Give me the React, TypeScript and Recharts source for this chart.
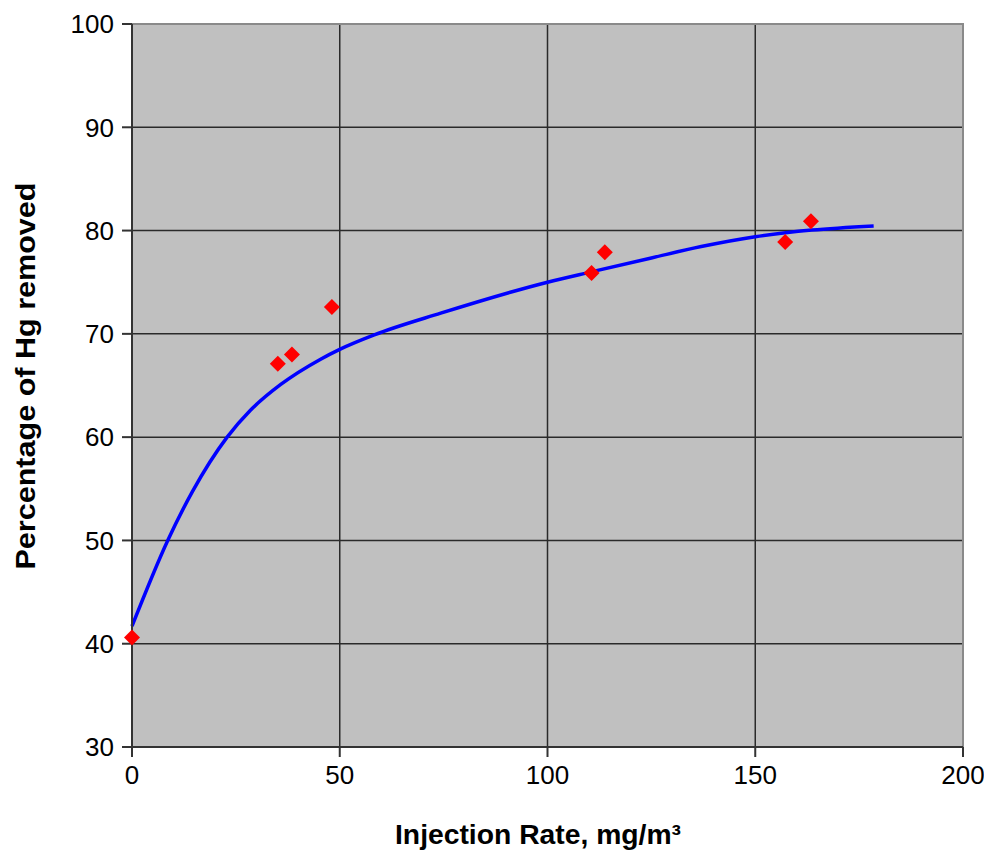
import { ComposedChart, Line, Scatter, XAxis, YAxis, CartesianGrid, ReferenceArea } from 'recharts'

const measuredRate = [0, 35.1, 38.5, 48.1, 110.6, 113.8, 157.2, 163.4]
const measuredRemoval = [40.6, 67.1, 68.0, 72.6, 75.9, 77.9, 78.9, 80.9]

const fitRate = [0, 8.6, 14.5, 22.9, 28.5, 35.8, 45.4, 50, 58.3, 74.3, 100, 110.5, 125, 137, 150, 163.6, 178.5]
const fitRemoval = [41.7, 50.0, 54.7, 60.0, 62.6, 65.1, 67.55, 68.5, 69.9, 72.0, 75.0, 76.0, 77.35, 78.45, 79.4, 80.05, 80.45]

const xTicks = [0, 50, 100, 150, 200]
const yTicks = [30, 40, 50, 60, 70, 80, 90, 100]

const points = measuredRate.map((x, i) => ({ x, y: measuredRemoval[i] }))
const curve = fitRate.map((x, i) => ({ x, y: fitRemoval[i] }))

const font = '"Liberation Sans", Arial, sans-serif'

const Diamond = (props: any) => {
  const { cx, cy } = props
  const r = 8
  return (
    <polygon
      points={`${cx},${cy - r} ${cx + r},${cy} ${cx},${cy + r} ${cx - r},${cy}`}
      fill="#FF0000"
    />
  )
}

export default function App() {
  return (
    <div style={{ width: 984, height: 846 }}>
      <ComposedChart width={984} height={846} margin={{ top: 16, right: 29, left: 0, bottom: 0 }}>
        <CartesianGrid
          fill="#C0C0C0"
          stroke="#2a2a2a"
          strokeWidth={1.5}
          horizontalValues={[40, 50, 60, 70, 80, 90]}
          verticalValues={[50, 100, 150]}
        />
        <ReferenceArea x1={0} x2={200} y1={30} y2={100} fill="none" stroke="#8a8a8a" strokeWidth={2} />
        <XAxis
          type="number"
          dataKey="x"
          domain={[0, 200]}
          ticks={xTicks}
          height={107}
          tickSize={10}
          tickMargin={9}
          stroke="#333"
          strokeWidth={2}
          tick={{ fill: '#000', fontSize: 26, fontFamily: font }}
          label={{
            content: () => (
              <text
                x={530}
                y={836}
                textAnchor="middle"
                textLength={286}
                lengthAdjust="spacingAndGlyphs"
                fontSize={27}
                fontWeight="bold"
                fontFamily={font}
                fill="#000"
              >
                Injection Rate, mg/m³
              </text>
            ),
          }}
        />
        <YAxis
          type="number"
          dataKey="y"
          domain={[30, 100]}
          ticks={yTicks}
          width={124}
          tickSize={10}
          tickMargin={8}
          stroke="#333"
          strokeWidth={2}
          tick={{ fill: '#000', fontSize: 26, fontFamily: font }}
          label={{
            content: () => (
              <text
                x={17}
                y={368}
                textAnchor="middle"
                dominantBaseline="central"
                transform="rotate(-90, 17, 368)"
                textLength={387}
                lengthAdjust="spacingAndGlyphs"
                fontSize={28}
                fontWeight="bold"
                fontFamily={font}
                fill="#000"
              >
                Percentage  of Hg removed
              </text>
            ),
          }}
        />
        <Line
          data={curve}
          dataKey="y"
          type="monotoneX"
          stroke="#0000FF"
          strokeWidth={3.5}
          dot={false}
          activeDot={false}
          isAnimationActive={false}
        />
        <Scatter data={points} dataKey="y" shape={<Diamond />} isAnimationActive={false} />
      </ComposedChart>
    </div>
  )
}
